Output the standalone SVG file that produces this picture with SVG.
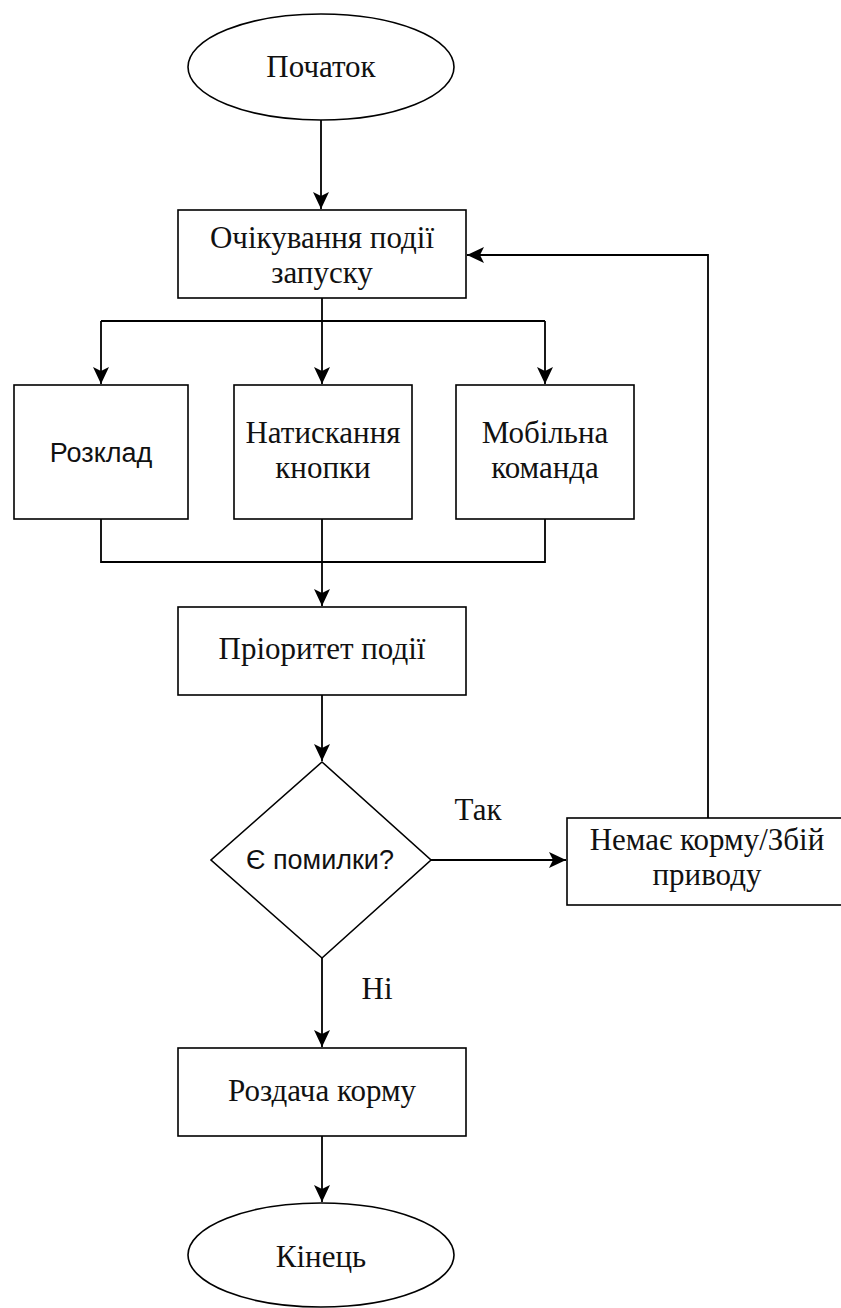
<svg xmlns="http://www.w3.org/2000/svg" width="841" height="1308" viewBox="0 0 841 1308">
<style>
.s{fill:#fff;stroke:#000;stroke-width:1.6}
.t{font-family:"Liberation Serif","Times New Roman",serif;font-size:31px;fill:#111;text-anchor:middle}
.a{font-family:"Liberation Sans",Arial,sans-serif;font-size:27px;fill:#111;text-anchor:middle}
.c{fill:none;stroke:#000;stroke-width:1.8}
</style>
<defs>
<marker id="ar" viewBox="0 0 18 18" refX="17" refY="9" markerWidth="18" markerHeight="18" markerUnits="userSpaceOnUse" orient="auto">
<path d="M0,1 L17,9 L0,17 L4,9 Z" fill="#000"/>
</marker>
</defs>
<rect width="841" height="1308" fill="#fff"/>
<g id="connectors">
<path class="c" d="M321,120 V209" marker-end="url(#ar)"/>
<path class="c" d="M322,298 V321"/>
<path class="c" d="M101,321 H545"/>
<path class="c" d="M101,321 V384" marker-end="url(#ar)"/>
<path class="c" d="M322,321 V384" marker-end="url(#ar)"/>
<path class="c" d="M545,321 V384" marker-end="url(#ar)"/>
<path class="c" d="M101,519 V562 H545 V519"/>
<path class="c" d="M322,519 V606" marker-end="url(#ar)"/>
<path class="c" d="M322,695 V761" marker-end="url(#ar)"/>
<path class="c" d="M431,860 H566" marker-end="url(#ar)"/>
<path class="c" d="M708,818 V255 H467" marker-end="url(#ar)"/>
<path class="c" d="M322,958 V1047" marker-end="url(#ar)"/>
<path class="c" d="M322,1136 V1202" marker-end="url(#ar)"/>
<text class="t" x="478" y="820">Так</text>
<text class="t" x="377" y="999">Ні</text>
</g>
<g id="start">
<ellipse class="s" cx="321" cy="67" rx="133" ry="53"/>
<text class="t" x="321" y="77">Початок</text>
</g>
<g id="wait">
<rect class="s" x="178" y="210" width="288" height="88"/>
<text class="t" x="322" y="248">Очікування події</text>
<text class="t" x="322" y="283">запуску</text>
</g>
<g id="schedule">
<rect class="s" x="14" y="385" width="174" height="134"/>
<text class="a" x="101" y="462">Розклад</text>
</g>
<g id="button">
<rect class="s" x="234" y="385" width="178" height="134"/>
<text class="t" x="323" y="443">Натискання</text>
<text class="t" x="323" y="478">кнопки</text>
</g>
<g id="mobile">
<rect class="s" x="456" y="385" width="178" height="134"/>
<text class="t" x="545" y="443">Мобільна</text>
<text class="t" x="545" y="478">команда</text>
</g>
<g id="priority">
<rect class="s" x="178" y="607" width="288" height="88"/>
<text class="t" x="322" y="659">Пріоритет події</text>
</g>
<g id="decision">
<path class="s" d="M322,762 L431,860 L322,958 L211,860 Z"/>
<text class="a" x="320" y="869">Є помилки?</text>
</g>
<g id="error">
<rect class="s" x="567" y="818" width="280" height="87"/>
<text class="t" x="707" y="850">Немає корму/Збій</text>
<text class="t" x="707" y="885">приводу</text>
</g>
<g id="feed">
<rect class="s" x="178" y="1048" width="288" height="88"/>
<text class="t" x="322" y="1101">Роздача корму</text>
</g>
<g id="end">
<ellipse class="s" cx="321" cy="1255" rx="133" ry="52"/>
<text class="t" x="321" y="1267">Кінець</text>
</g>
</svg>
